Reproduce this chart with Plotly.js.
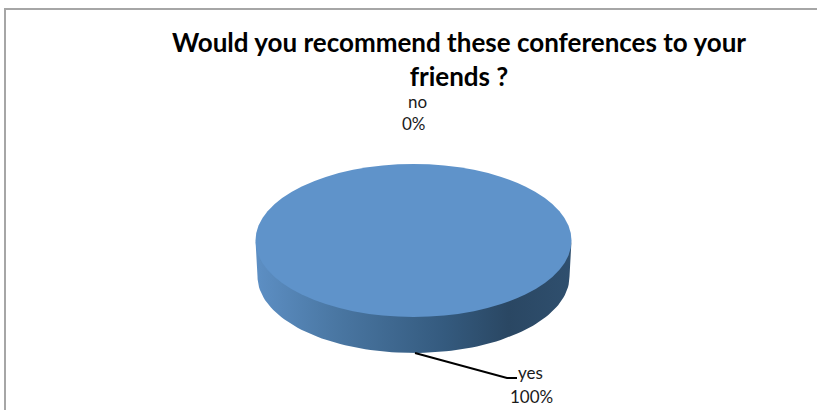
<!DOCTYPE html>
<html><head><meta charset="utf-8">
<script src="https://cdn.plot.ly/plotly-3.0.1.min.js"></script>
<style>html,body{margin:0;padding:0;background:#fff}</style>
</head><body><div id="chart" style="width:817px;height:410px"></div>
<script>
var categories = ["yes", "no"];
var values = [100, 0];
var percentLabels = ["100%", "0%"];
var chartTitle = "Would you recommend these conferences to your<br>friends ?";
var W = 817, H = 410, cx = 413.5, cy = 240.5, rx = 158, ry = 76.5, depth = 36;

// extruded side of the 3D disc
var sideX = [], sideY = [], i, a;
for (i = 0; i <= 90; i++) { a = Math.PI * i / 90; sideX.push(cx + (rx - 2) * Math.cos(a)); sideY.push(cy + depth + ry * Math.sin(a)); }
for (i = 90; i >= 0; i--) { a = Math.PI * i / 90; sideX.push(cx + rx * Math.cos(a)); sideY.push(cy + ry * Math.sin(a) * 0.5); }

var side = {type: "scatter", x: sideX, y: sideY, mode: "lines", line: {width: 0}, fill: "toself", hoverinfo: "skip", showlegend: false,
  fillgradient: {type: "horizontal", colorscale: [[0, "#5d8fc4"], [0.25, "#4a77a3"], [0.6, "#345a7e"], [0.8, "#2a4763"], [1, "#2f4f6e"]]}};
var pie = {type: "pie", labels: categories, values: values, sort: false, textinfo: "none", hoverinfo: "label+percent",
  marker: {colors: ["#5f93ca", "#c0504d"], line: {width: 0}}, showlegend: false,
  domain: {x: [(cx - rx) / W, (cx + rx) / W], y: [1 - (cy + rx) / H, 1 - (cy - rx) / H]}};

function lab(x, y, t) { return {xref: "x", yref: "y", x: x, y: y, text: t, showarrow: false, font: {family: "Lato, Carlito", size: 17, color: "#1a1a1a"}, xanchor: "center", yanchor: "middle"}; }

var layout = {
  width: W, height: H, margin: {l: 0, r: 0, t: 0, b: 0}, paper_bgcolor: "#fff", plot_bgcolor: "#fff", showlegend: false,
  xaxis: {range: [0, W], visible: false, fixedrange: true},
  yaxis: {range: [H, 0], visible: false, fixedrange: true},
  annotations: [
    {xref: "x", yref: "y", x: 459, y: 59, text: chartTitle, showarrow: false, align: "center", xanchor: "center", yanchor: "middle",
     font: {family: "Lato, Carlito", size: 26, color: "#000", weight: 700}},
    lab(417, 101, categories[1]), lab(414, 123, percentLabels[1]),
    lab(530, 372, categories[0]), lab(531, 396, percentLabels[0])
  ],
  shapes: [
    {type: "path", xref: "x", yref: "y", path: "M5 410 L5 9 L817 9", line: {color: "#a6a6a6", width: 2}},
    {type: "path", xref: "x", yref: "y", path: "M415 353 L507 378 L517 378", line: {color: "#000", width: 2}}
  ]
};
Plotly.newPlot("chart", [side, pie], layout, {displayModeBar: false, staticPlot: true}).then(function () {
  document.querySelectorAll(".pielayer .trace").forEach(function (g) {
    g.setAttribute("transform", "translate(" + cx + "," + cy + ") scale(1," + (ry / rx) + ") translate(" + (-cx) + "," + (-cy) + ")");
  });
});
</script></body></html>
